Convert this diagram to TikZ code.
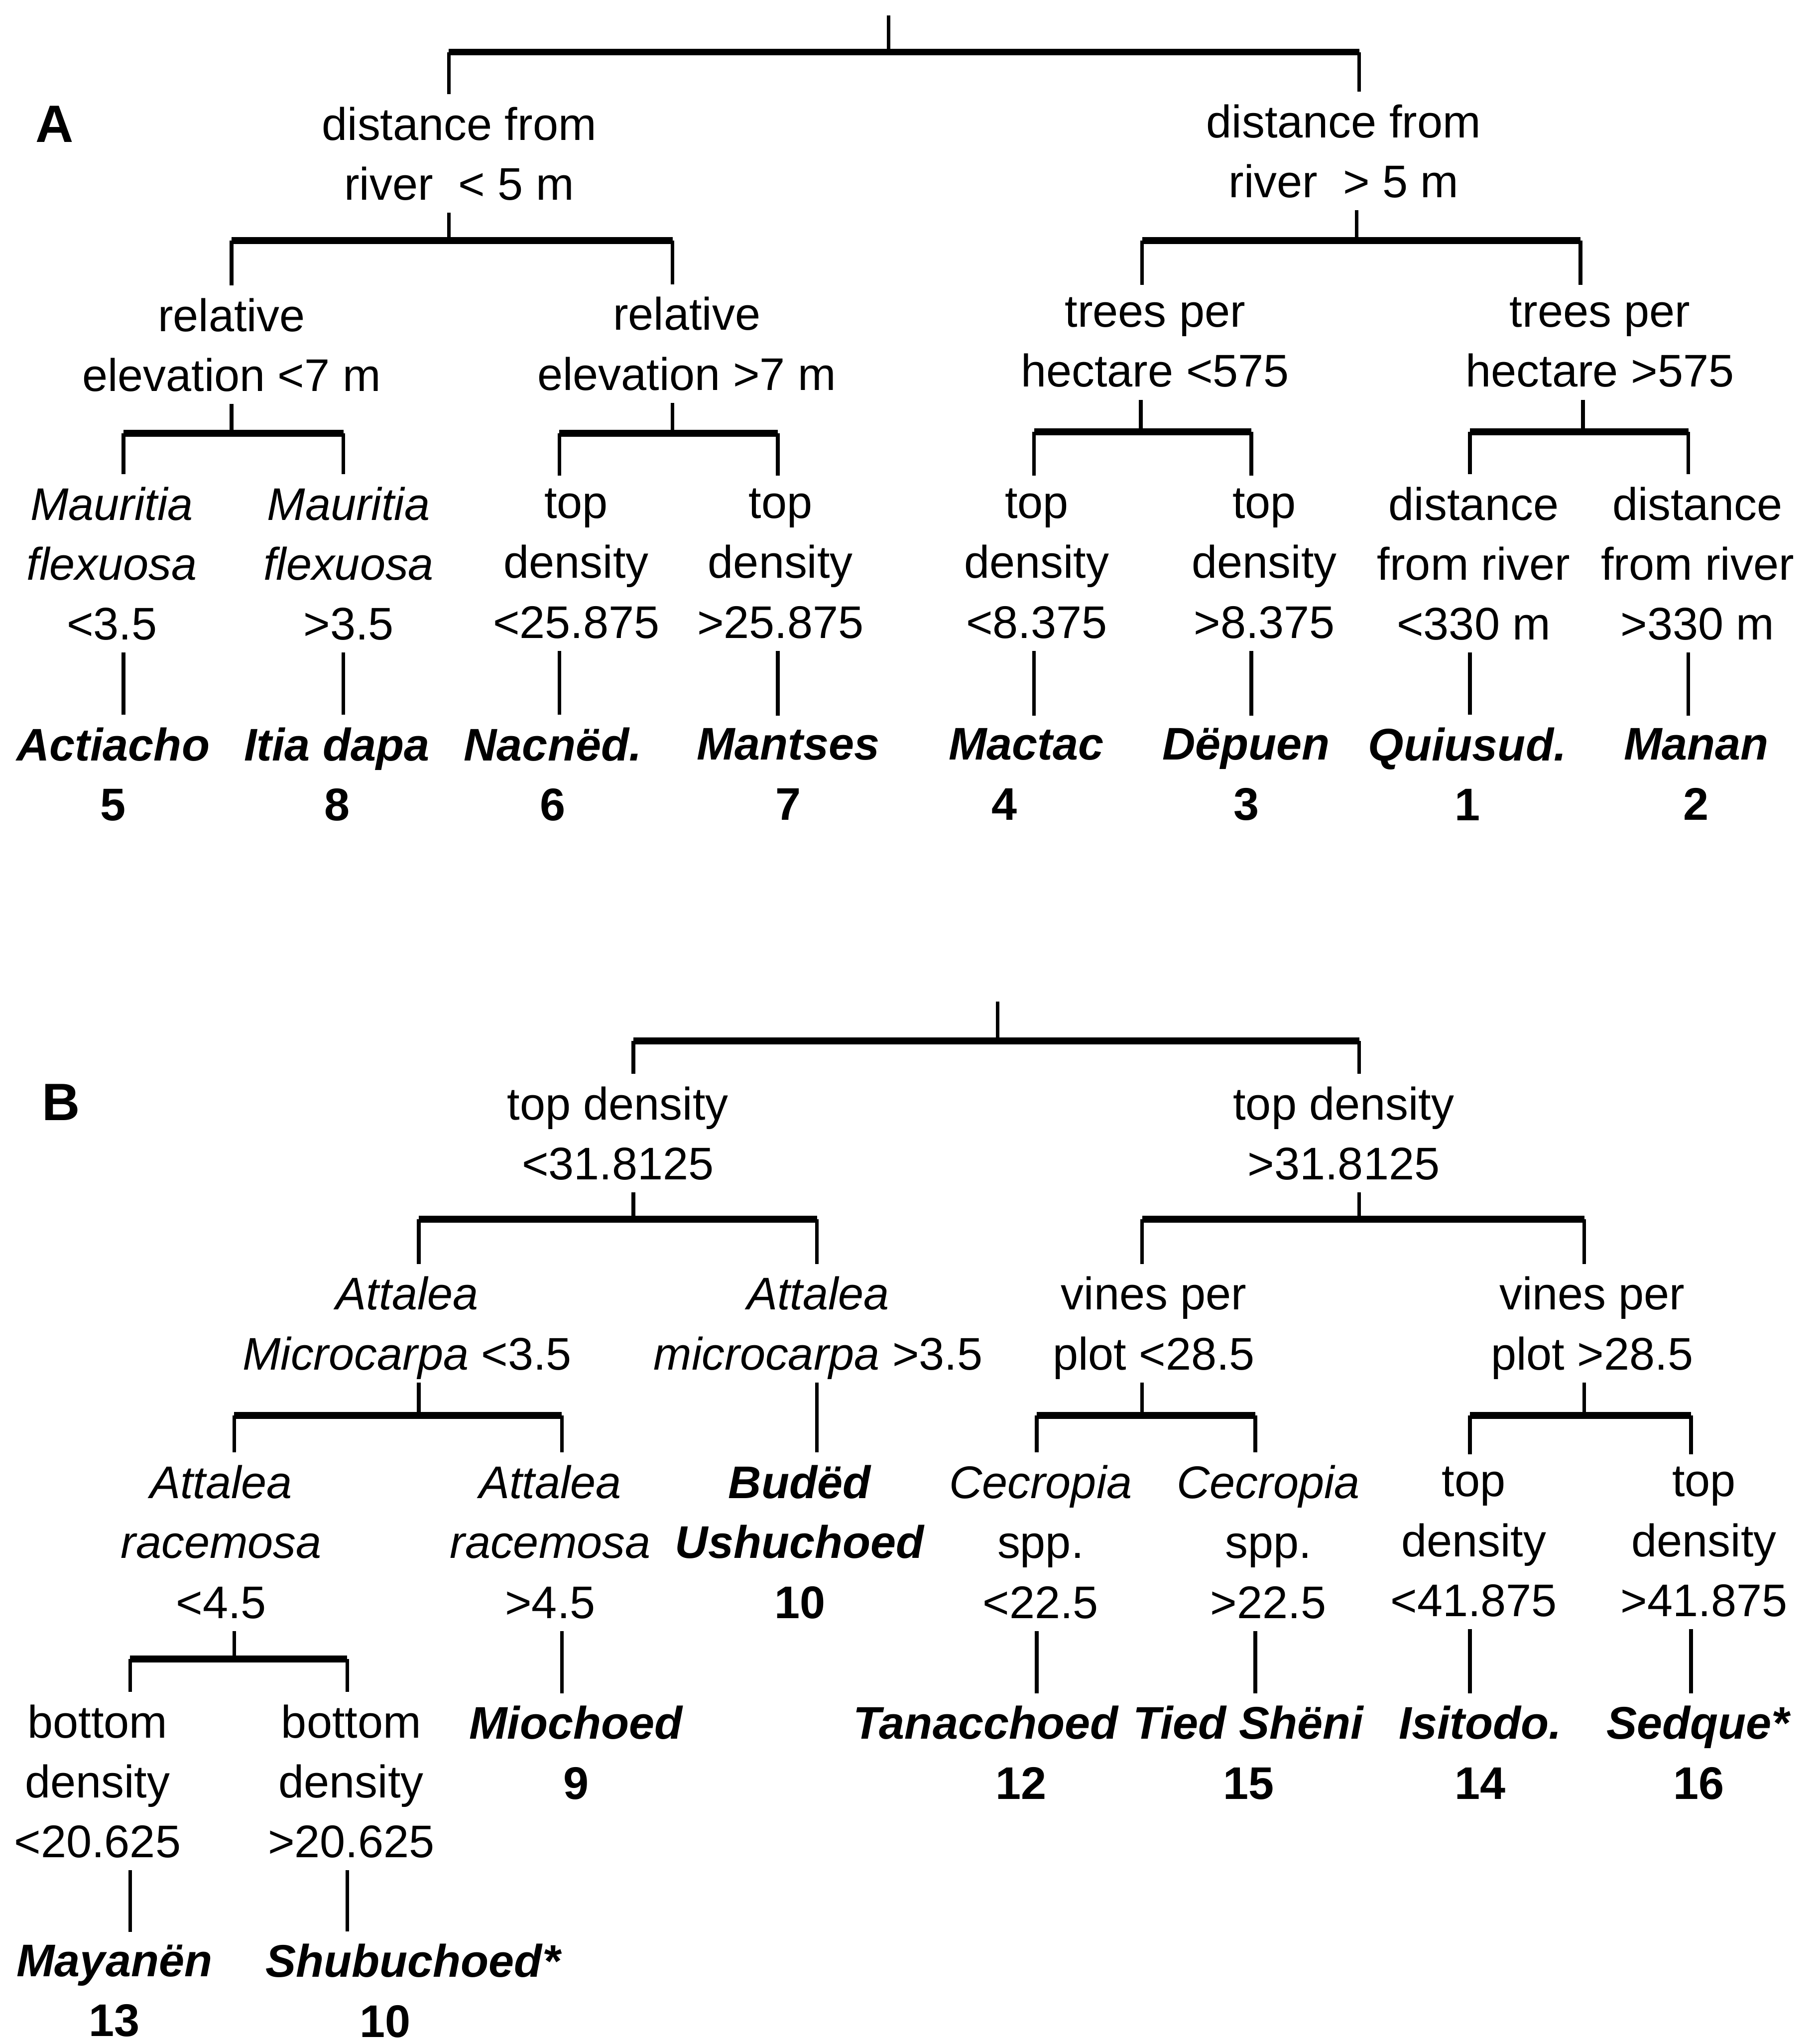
\documentclass[tikz,border=0pt]{standalone}
\usepackage{fontspec}
\setmainfont{Liberation Sans}

\tikzset{
  split/.style={align=center, inner sep=0pt, outer ysep=2.8pt, text depth=0pt, execute at begin node=\strut},
  leaf/.style={split, font=\fontsize{10}{13.1}\selectfont\bfseries},
  panel/.style={split, font=\fontsize{11.5}{14}\selectfont\bfseries},
  bar/.style={line width=1.5pt},
}

\begin{document}
\begin{tikzpicture}[x=0.1mm, y=-0.1mm, line width=0.8pt, font=\fontsize{10}{13.1}\selectfont]
\useasboundingbox (0,0) rectangle (1399,1568);

% tree A
\node[panel] (labA) at (42,92) {A};
\node[split] (dA1) at (353,118) {distance from\\river~ < 5 m};
\node[split] (dA2) at (1033,116) {distance from\\river~ > 5 m};
\node[split] (eA1) at (178,265) {relative\\elevation <7 m};
\node[split] (eA2) at (528,264) {relative\\elevation >7 m};
\node[split] (hA1) at (888,263) {trees per\\hectare <575};
\node[split] (hA2) at (1230,263) {trees per\\hectare >575};
\node[split] (fA1) at (86,433) {\textit{Mauritia}\\\textit{flexuosa}\\<3.5};
\node[split] (fA2) at (268,433) {\textit{Mauritia}\\\textit{flexuosa}\\>3.5};
\node[split] (tA1) at (443,433) {top\\density\\<25.875};
\node[split] (tA2) at (600,433) {top\\density\\>25.875};
\node[split] (tA3) at (797,433) {top\\density\\<8.375};
\node[split] (tA4) at (972,433) {top\\density\\>8.375};
\node[split] (rA1) at (1133,433) {distance\\from river\\<330 m};
\node[split] (rA2) at (1305,433) {distance\\from river\\>330 m};

\node[leaf] (lf5) at (87,595) {\textit{Actiacho}\\5};
\node[leaf] (lf8) at (259,595) {\textit{Itia dapa}\\8};
\node[leaf] (lf6) at (425,595) {\textit{Nacnëd.}\\6};
\node[leaf] (lf7) at (606,595) {\textit{Mantses}\\7};
\node[leaf] (lf4) at (789,595) {\textit{Mactac}\\4\hspace*{3.4mm}};
\node[leaf] (lf3) at (958,595) {\textit{Dëpuen}\\3};
\node[leaf] (lf1) at (1128,595) {\textit{Quiusud.}\\1};
\node[leaf] (lf2) at (1304,595) {\textit{Manan}\\2};

\coordinate (topA) at (683,12);
\draw (topA) -- ++(0,28);
\draw[bar] (345,40) coordinate (a0l) -- (1045,40) coordinate (a0r);
\draw (a0l) -- (a0l |- dA1.north) (a0r) -- (a0r |- dA2.north);

\coordinate (a1m) at (345,185);
\draw[bar] (178,185) coordinate (a1l) -- (517,185) coordinate (a1r);
\draw (dA1.south -| a1m) -- (a1m) (a1l) -- (a1l |- eA1.north) (a1r) -- (a1r |- eA2.north);

\coordinate (a2m) at (1043,185);
\draw[bar] (878,185) coordinate (a2l) -- (1215,185) coordinate (a2r);
\draw (dA2.south -| a2m) -- (a2m) (a2l) -- (a2l |- hA1.north) (a2r) -- (a2r |- hA2.north);

\coordinate (a3m) at (178,333);
\draw[bar] (95,333) coordinate (a3l) -- (264,333) coordinate (a3r);
\draw (eA1.south -| a3m) -- (a3m) (a3l) -- (a3l |- fA1.north) (a3r) -- (a3r |- fA2.north);

\coordinate (a4m) at (517,333);
\draw[bar] (430,333) coordinate (a4l) -- (598,333) coordinate (a4r);
\draw (eA2.south -| a4m) -- (a4m) (a4l) -- (a4l |- tA1.north) (a4r) -- (a4r |- tA2.north);

\coordinate (a5m) at (877,332);
\draw[bar] (795,332) coordinate (a5l) -- (962,332) coordinate (a5r);
\draw (hA1.south -| a5m) -- (a5m) (a5l) -- (a5l |- tA3.north) (a5r) -- (a5r |- tA4.north);

\coordinate (a6m) at (1217,332);
\draw[bar] (1130,332) coordinate (a6l) -- (1298,332) coordinate (a6r);
\draw (hA2.south -| a6m) -- (a6m) (a6l) -- (a6l |- rA1.north) (a6r) -- (a6r |- rA2.north);

\draw (fA1.south -| a3l) -- (lf5.north -| a3l);
\draw (fA2.south -| a3r) -- (lf8.north -| a3r);
\draw (tA1.south -| a4l) -- (lf6.north -| a4l);
\draw (tA2.south -| a4r) -- (lf7.north -| a4r);
\draw (tA3.south -| a5l) -- (lf4.north -| a5l);
\draw (tA4.south -| a5r) -- (lf3.north -| a5r);
\draw (rA1.south -| a6l) -- (lf1.north -| a6l);
\draw (rA2.south -| a6r) -- (lf2.north -| a6r);

% tree B
\node[panel] (labB) at (47,844) {B};
\node[split] (dB1) at (475,871) {top density\\<31.8125};
\node[split] (dB2) at (1033,871) {top density\\>31.8125};
\node[split] (aB1) at (313,1017) {\textit{Attalea}\\\textit{Microcarpa} <3.5};
\node[split] (aB2) at (629,1017) {\textit{Attalea}\\\textit{microcarpa} >3.5};
\node[split] (vB1) at (887,1017) {vines per\\plot <28.5};
\node[split] (vB2) at (1224,1017) {vines per\\plot >28.5};
\node[split] (cB1) at (170,1185) {\textit{Attalea}\\\textit{racemosa}\\<4.5};
\node[split] (cB2) at (423,1185) {\textit{Attalea}\\\textit{racemosa}\\>4.5};
\node[leaf] (lf10a) at (615,1185) {\textit{Budëd}\\\textit{Ushuchoed}\\10};
\node[split] (sB1) at (800,1185) {\textit{Cecropia}\\spp.\\<22.5};
\node[split] (sB2) at (975,1185) {\textit{Cecropia}\\spp.\\>22.5};
\node[split] (tB1) at (1133,1185) {top\\density\\<41.875};
\node[split] (tB2) at (1310,1185) {top\\density\\>41.875};
\node[split] (bB1) at (75,1369) {bottom\\density\\<20.625};
\node[split] (bB2) at (270,1369) {bottom\\density\\>20.625};

\node[leaf] (lf9) at (443,1347) {\textit{Miochoed}\\9};
\node[leaf] (lf12) at (758,1347) {\textit{Tanacchoed}\\\hspace*{5.4mm}12};
\node[leaf] (lf15) at (960,1347) {\textit{Tied Shëni}\\15};
\node[leaf] (lf14) at (1138,1347) {\textit{Isitodo.}\\14};
\node[leaf] (lf16) at (1306,1347) {\textit{Sedque*}\\16};
\node[leaf] (lf13) at (88,1530) {\textit{Mayanën}\\13};
\node[leaf] (lf10b) at (318,1530) {\textit{Shubuchoed*}\\10\hspace*{4.4mm}};

\coordinate (topB) at (767,770);
\draw (topB) -- ++(0,30);
\draw[bar] (487,800) coordinate (b0l) -- (1045,800) coordinate (b0r);
\draw (b0l) -- (b0l |- dB1.north) (b0r) -- (b0r |- dB2.north);

\coordinate (b1m) at (487,937);
\draw[bar] (322,937) coordinate (b1l) -- (628,937) coordinate (b1r);
\draw (dB1.south -| b1m) -- (b1m) (b1l) -- (b1l |- aB1.north) (b1r) -- (b1r |- aB2.north);

\coordinate (b2m) at (1045,937);
\draw[bar] (878,937) coordinate (b2l) -- (1218,937) coordinate (b2r);
\draw (dB2.south -| b2m) -- (b2m) (b2l) -- (b2l |- vB1.north) (b2r) -- (b2r |- vB2.north);

\coordinate (b3m) at (322,1088);
\draw[bar] (180,1088) coordinate (b3l) -- (432,1088) coordinate (b3r);
\draw (aB1.south -| b3m) -- (b3m) (b3l) -- (b3l |- cB1.north) (b3r) -- (b3r |- cB2.north);

\draw (aB2.south -| b1r) -- (lf10a.north -| b1r);

\coordinate (b4m) at (878,1088);
\draw[bar] (797,1088) coordinate (b4l) -- (965,1088) coordinate (b4r);
\draw (vB1.south -| b4m) -- (b4m) (b4l) -- (b4l |- sB1.north) (b4r) -- (b4r |- sB2.north);

\coordinate (b5m) at (1218,1088);
\draw[bar] (1130,1088) coordinate (b5l) -- (1300,1088) coordinate (b5r);
\draw (vB2.south -| b5m) -- (b5m) (b5l) -- (b5l |- tB1.north) (b5r) -- (b5r |- tB2.north);

\coordinate (b6m) at (180,1275);
\draw[bar] (100,1275) coordinate (b6l) -- (267,1275) coordinate (b6r);
\draw (cB1.south -| b6m) -- (b6m) (b6l) -- (b6l |- bB1.north) (b6r) -- (b6r |- bB2.north);

\draw (cB2.south -| b3r) -- (lf9.north -| b3r);
\draw (sB1.south -| b4l) -- (lf12.north -| b4l);
\draw (sB2.south -| b4r) -- (lf15.north -| b4r);
\draw (tB1.south -| b5l) -- (lf14.north -| b5l);
\draw (tB2.south -| b5r) -- (lf16.north -| b5r);
\draw (bB1.south -| b6l) -- (lf13.north -| b6l);
\draw (bB2.south -| b6r) -- (lf10b.north -| b6r);

\end{tikzpicture}
\end{document}
